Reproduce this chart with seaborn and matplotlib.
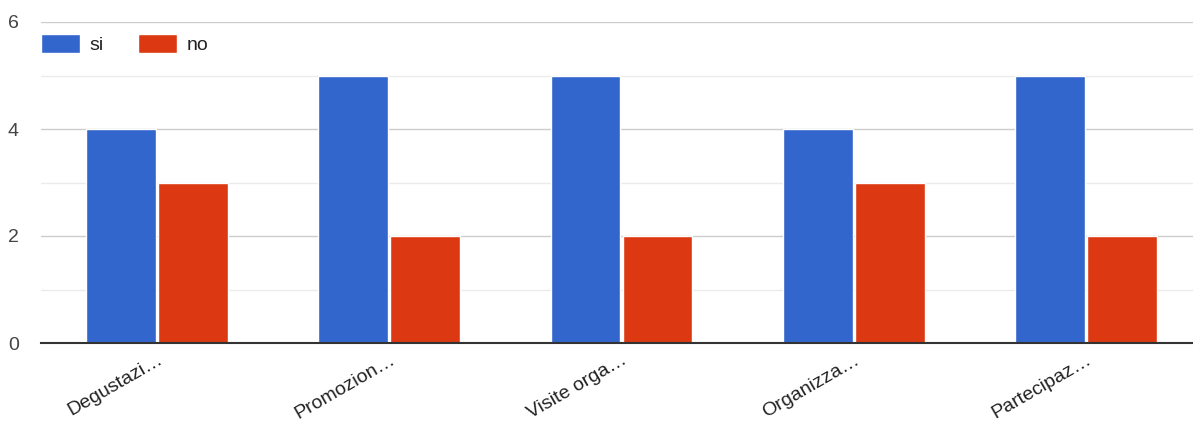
import matplotlib
matplotlib.use("Agg")
import matplotlib.pyplot as plt
import seaborn as sns
import pandas as pd

categories = ["Degustazi…", "Promozion…", "Visite orga…", "Organizza…", "Partecipaz…"]
si_values = [4, 5, 5, 4, 5]
no_values = [3, 2, 2, 3, 2]
series_names = ["si", "no"]
colors = ["#3366cc", "#dc3912"]

df = pd.DataFrame({
    "cat": categories * 2,
    "val": si_values + no_values,
    "serie": [series_names[0]] * len(categories) + [series_names[1]] * len(categories),
})

sns.set_theme(style="white")
plt.rcParams["font.family"] = ["Liberation Sans", "DejaVu Sans"]

fig = plt.figure(figsize=(11.93, 4.22), dpi=100)
ax = fig.add_axes([41 / 1193, 1 - 343 / 422, (1202 - 41) / 1193, 321 / 422])

sns.barplot(data=df, x="cat", y="val", hue="serie", palette=colors,
            width=0.62, gap=0.03, saturation=1, ax=ax, legend=True)

ax.set_ylim(0, 6)
ax.set_xlim(-0.5, 4.5)
ax.set_yticks([0, 2, 4, 6])
ax.set_yticks([1, 3, 5], minor=True)
ax.grid(axis="y", which="major", color="#cccccc", linewidth=1)
ax.grid(axis="y", which="minor", color="#ebebeb", linewidth=1)
ax.set_axisbelow(True)
for s in ["left", "right", "top"]:
    ax.spines[s].set_visible(False)
ax.spines["bottom"].set_color("#333333")
ax.spines["bottom"].set_linewidth(1.5)
ax.set_xlabel("")
ax.set_ylabel("")
ax.tick_params(axis="y", which="both", length=0, pad=16, labelsize=14, labelcolor="#444444")
ax.tick_params(axis="x", length=0, pad=6, labelsize=14, labelcolor="#222222")
plt.setp(ax.get_xticklabels(), rotation=30, ha="right", rotation_mode="anchor")

handles, labels = ax.get_legend_handles_labels()
ax.legend(handles, labels, loc="upper left", bbox_to_anchor=(0.0, 0.962),
          ncol=2, frameon=False, fontsize=14, handlelength=2.0, handleheight=1.1,
          handletextpad=0.5, columnspacing=1.75, borderaxespad=0.0, borderpad=0.0,
          labelcolor="#222222")

fig.savefig("out.png", dpi=100)
